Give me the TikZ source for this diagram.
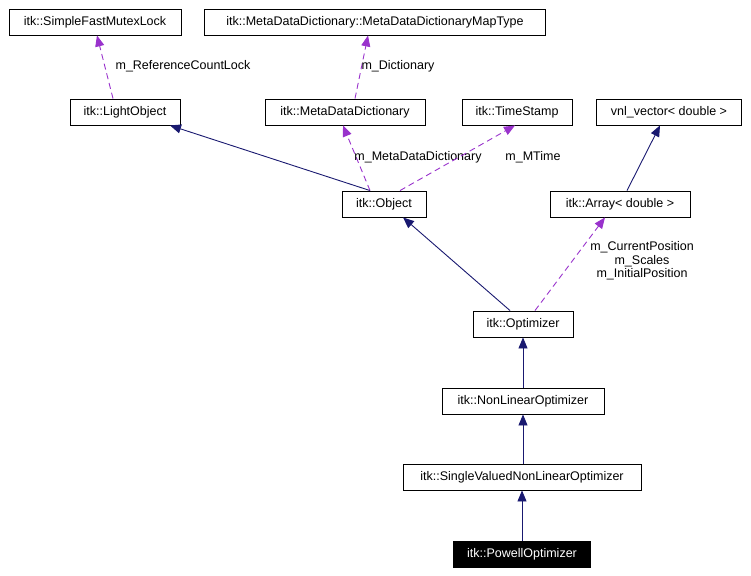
\documentclass[tikz,border=0pt]{standalone}
\usepackage{fontspec}
\setmainfont{Liberation Sans}
\usetikzlibrary{arrows.meta}
\definecolor{navy}{RGB}{25,25,112}
\definecolor{orchid}{RGB}{153,50,204}
\begin{document}
\begin{tikzpicture}[x=1pt,y=-1pt,font=\fontsize{12.5}{13.5}\selectfont,line width=0.9pt,
  box/.style={draw,fill=white,minimum height=26pt,inner xsep=6pt,anchor=center},
  inh/.style={navy,-{Triangle[length=11pt,width=9pt]}},
  use/.style={orchid,dashed,dash pattern=on 6pt off 4pt,-{Triangle[length=11pt,width=9pt]}},
  lab/.style={text=black,inner sep=1pt,align=center}]
\useasboundingbox (0,0) rectangle (751,575);
\node[box,minimum width=172pt] (mutex) at (95,22) {itk::SimpleFastMutexLock};
\node[box,minimum width=341pt] (map) at (375,22) {itk::MetaDataDictionary::MetaDataDictionaryMapType};
\node[box,minimum width=110pt] (light) at (125,112) {itk::LightObject};
\node[box,minimum width=160pt] (mdd) at (345,112) {itk::MetaDataDictionary};
\node[box,minimum width=110pt] (ts) at (517,112) {itk::TimeStamp};
\node[box,minimum width=145pt] (vnl) at (669,112) {vnl\_vector< double >};
\node[box,minimum width=84pt] (obj) at (384,204) {itk::Object};
\node[box,minimum width=140pt] (arr) at (620,204) {itk::Array< double >};
\node[box,minimum width=100pt] (opt) at (523,324) {itk::Optimizer};
\node[box,minimum width=162pt] (nlo) at (523,401) {itk::NonLinearOptimizer};
\node[box,minimum width=238pt] (sv) at (522,477) {itk::SingleValuedNonLinearOptimizer};
\node[box,minimum width=137pt,fill=black,text=white] (pow) at (522,554) {itk::PowellOptimizer};

\draw[use] (light.north) ++(-12,0) -- ([xshift=2pt]mutex.south);
\node[lab] at (183,66) {m\_ReferenceCountLock};
\draw[use] (mdd.north) ++(10,0) -- ([xshift=-7pt]map.south);
\node[lab] at (398,66) {m\_Dictionary};
\draw[inh] ([xshift=-14pt]obj.north) -- ([xshift=45pt]light.south);
\draw[use] ([xshift=-14pt]obj.north) -- ([xshift=-2pt]mdd.south);
\node[lab] at (418,157) {m\_MetaDataDictionary};
\draw[use] ([xshift=16pt]obj.north) -- ([xshift=-2pt]ts.south);
\node[lab] at (533,157) {m\_MTime};
\draw[inh] ([xshift=7pt]arr.north) -- ([xshift=-9pt]vnl.south);
\draw[inh] ([xshift=-13pt]opt.north) -- ([xshift=19pt]obj.south);
\draw[use] ([xshift=12pt]opt.north) -- ([xshift=-15pt]arr.south);
\node[lab] at (642,261) {m\_CurrentPosition\\m\_Scales\\m\_InitialPosition};
\draw[inh] (nlo.north) -- (opt.south);
\draw[inh] ([xshift=1pt]sv.north) -- ([xshift=0pt]nlo.south);
\draw[inh] (pow.north) -- (sv.south);
\end{tikzpicture}
\end{document}
